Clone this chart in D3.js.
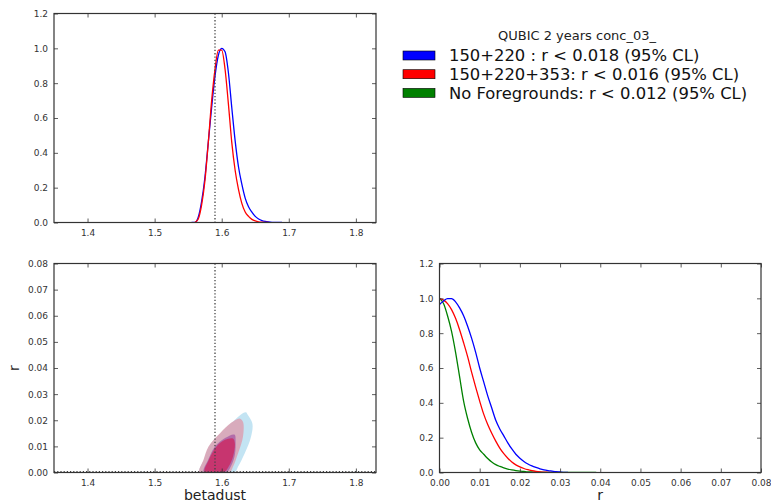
<!DOCTYPE html>
<html>
<head>
<meta charset="utf-8">
<script src="https://cdn.jsdelivr.net/npm/d3@7"></script>
<style>
  body { margin: 0; background: #fff; }
  svg { font-family: "DejaVu Sans", sans-serif; }
</style>
</head>
<body>
<div id="chart"></div>
<script>
// ---- data ----
const betaGrid = [1.555, 1.56, 1.565, 1.57, 1.575, 1.58, 1.585, 1.59, 1.595, 1.6, 1.605, 1.61, 1.615,
  1.62, 1.625, 1.63, 1.635, 1.64, 1.645, 1.65, 1.655, 1.66, 1.665, 1.67, 1.675, 1.68, 1.685, 1.69];
const betaBlue = [0, 0, 0.03, 0.12, 0.26, 0.46, 0.66, 0.84, 0.96, 1.0, 0.98, 0.86, 0.66,
  0.47, 0.32, 0.22, 0.14, 0.09, 0.06, 0.035, 0.02, 0.011, 0.006, 0.003, 0.001, 0, 0, 0];
const betaRed = [null, 0, 0.02, 0.1, 0.24, 0.46, 0.7, 0.88, 0.99, 0.99, 0.88, 0.68, 0.46,
  0.3, 0.19, 0.11, 0.06, 0.035, 0.018, 0.009, 0.004, 0.002, 0.001, 0, null, null, null, null];

const rGrid = [0, 0.001, 0.002, 0.003, 0.004, 0.005, 0.006, 0.007, 0.008, 0.009, 0.01, 0.011, 0.012,
  0.013, 0.014, 0.015, 0.016, 0.017, 0.018, 0.019, 0.02, 0.021, 0.022, 0.023, 0.024, 0.025, 0.026,
  0.027, 0.028, 0.029, 0.03, 0.031, 0.032, 0.035, 0.039];
const rBlue = [0.965, 0.985, 0.998, 0.998, 0.98, 0.945, 0.9, 0.84, 0.77, 0.69, 0.6, 0.52, 0.44,
  0.37, 0.3, 0.25, 0.21, 0.17, 0.135, 0.105, 0.082, 0.063, 0.049, 0.038, 0.029, 0.021, 0.015,
  0.011, 0.008, 0.005, 0.003, 0.001, 0, null, null];
const rRed = [0.998, 0.99, 0.97, 0.935, 0.885, 0.82, 0.745, 0.665, 0.575, 0.49, 0.41, 0.335, 0.275,
  0.225, 0.18, 0.14, 0.108, 0.082, 0.06, 0.044, 0.032, 0.023, 0.016, 0.011, 0.007, 0.004, 0.002,
  0.001, 0, null, null, null, null, null, null];
const rGreen = [1.0, 0.97, 0.9, 0.81, 0.69, 0.55, 0.41, 0.31, 0.23, 0.17, 0.13, 0.105, 0.08,
  0.06, 0.045, 0.035, 0.027, 0.02, 0.015, 0.011, 0.008, 0.006, 0.004, 0.003, 0.002, 0.0015, 0.001,
  0.0005, 0, 0, 0, 0, 0, 0, 0];

// 2D contours (betadust, r)
const blueOuter = [[1.567, 0], [1.574, 0.005], [1.582, 0.01], [1.5995, 0.015], [1.619, 0.02], [1.632, 0.0228],
  [1.6367, 0.023], [1.6383, 0.0223], [1.6457, 0.0188], [1.6437, 0.0137], [1.6342, 0.0073], [1.6243, 0.0022], [1.619, 0]];
const redOuter = [[1.567, 0], [1.573, 0.005], [1.5804, 0.01], [1.5975, 0.015], [1.614, 0.019], [1.6268, 0.0207],
  [1.6317, 0.0194], [1.6317, 0.0137], [1.6243, 0.0073], [1.6168, 0.0022], [1.6116, 0]];
const blueInner = [[1.5732, 0], [1.58, 0.005], [1.59, 0.01], [1.605, 0.0132], [1.619, 0.0145], [1.6207, 0.0117],
  [1.619, 0.006], [1.612, 0.0015], [1.607, 0]];
const redInner = [[1.5747, 0], [1.581, 0.005], [1.5923, 0.01], [1.605, 0.0125], [1.6168, 0.013], [1.6196, 0.0111],
  [1.6168, 0.006], [1.6087, 0.0015], [1.603, 0]];

const betaTrue = 1.59;
const legendTitle = "QUBIC 2 years conc_03_";
const legendLabels = ["150+220 : r < 0.018 (95% CL)", "150+220+353: r < 0.016 (95% CL)", "No Foregrounds: r < 0.012 (95% CL)"];
const legendColors = ["#0000ff", "#ff0000", "#008000"];

const betaTicks = [1.4, 1.5, 1.6, 1.7, 1.8];
const likeTicks = [0, 0.2, 0.4, 0.6, 0.8, 1.0, 1.2];
const rTicks = [0, 0.01, 0.02, 0.03, 0.04, 0.05, 0.06, 0.07, 0.08];

// ---- setup ----
const W = 771, H = 504;
const svg = d3.select("#chart").append("svg").attr("width", W).attr("height", H);

function panel(x0, x1, y0, y1, xDom, yDom, xTicks, yTicks, xFmt, yFmt) {
  const x = d3.scaleLinear().domain(xDom).range([x0, x1]);
  const y = d3.scaleLinear().domain(yDom).range([y1, y0]);
  const g = svg.append("g");
  const clipId = "clip" + Math.round(x0) + Math.round(y0);
  svg.append("clipPath").attr("id", clipId)
    .append("rect").attr("x", x0).attr("y", y0).attr("width", x1 - x0).attr("height", y1 - y0);
  const plot = g.append("g").attr("clip-path", `url(#${clipId})`);
  const axes = g.append("g");
  // inward ticks on all sides
  const tk = 4;
  axes.append("g").attr("transform", `translate(0,${y1})`)
    .call(d3.axisBottom(x).tickValues(xTicks).tickSizeInner(-tk).tickSizeOuter(0).tickPadding(7).tickFormat(xFmt));
  axes.append("g").attr("transform", `translate(0,${y0})`)
    .call(d3.axisTop(x).tickValues(xTicks).tickSizeInner(-tk).tickSizeOuter(0).tickFormat(""));
  axes.append("g").attr("transform", `translate(${x0},0)`)
    .call(d3.axisLeft(y).tickValues(yTicks).tickSizeInner(-tk).tickSizeOuter(0).tickPadding(6).tickFormat(yFmt));
  axes.append("g").attr("transform", `translate(${x1},0)`)
    .call(d3.axisRight(y).tickValues(yTicks).tickSizeInner(-tk).tickSizeOuter(0).tickFormat(""));
  axes.selectAll(".domain").remove();
  axes.selectAll(".tick line").attr("stroke", "#333").attr("stroke-width", 0.8);
  axes.selectAll(".tick text").attr("fill", "#333").style("font-size", "9px").style("font-family", "DejaVu Sans");
  axes.append("rect").attr("x", x0).attr("y", y0).attr("width", x1 - x0).attr("height", y1 - y0)
    .attr("fill", "none").attr("stroke", "#333").attr("stroke-width", 1.2);
  return { x, y, plot };
}

const L = 54, R1 = 376, L2 = 439.5, R2 = 761;
const T1 = 13.5, B1 = 222.5, T2 = 263.5, B2 = 472.5;

const f1 = d3.format(".1f"), f2 = d3.format(".2f");

// top-left: betadust likelihood
const p1 = panel(L, R1, T1, B1, [1.35, 1.83], [0, 1.2], betaTicks, likeTicks, f1, f1);
const line1 = d3.line().defined(d => d[1] != null).curve(d3.curveMonotoneX)
  .x(d => p1.x(d[0])).y(d => p1.y(d[1]));
p1.plot.append("path").datum(betaGrid.map((b, i) => [b, betaBlue[i]]))
  .attr("d", line1).attr("fill", "none").attr("stroke", "#0000ff").attr("stroke-width", 1.3);
p1.plot.append("path").datum(betaGrid.map((b, i) => [b, betaRed[i]]))
  .attr("d", line1).attr("fill", "none").attr("stroke", "#ff0000").attr("stroke-width", 1.3);
p1.plot.append("line").attr("x1", p1.x(betaTrue)).attr("x2", p1.x(betaTrue)).attr("y1", T1).attr("y2", B1)
  .attr("stroke", "#444").attr("stroke-width", 1.3).attr("stroke-dasharray", "1.3,2");

// bottom-left: 2D contours
const p2 = panel(L, R1, T2, B2, [1.35, 1.83], [0, 0.08], betaTicks, rTicks, f1, f2);
const area = d3.line().curve(d3.curveCatmullRomClosed).x(d => p2.x(d[0])).y(d => p2.y(d[1]));
const contours = [
  { pts: blueOuter, fill: "#c0e3f2" },
  { pts: redOuter, fill: "#d9a8b8" },
  { pts: blueInner, fill: "#b068a8" },
  { pts: redInner, fill: "#c8336b" }
];
contours.forEach(c => {
  p2.plot.append("path").attr("d", area(c.pts)).attr("fill", c.fill).attr("opacity", 0.95);
});
p2.plot.append("line").attr("x1", p2.x(betaTrue)).attr("x2", p2.x(betaTrue)).attr("y1", T2).attr("y2", B2)
  .attr("stroke", "#444").attr("stroke-width", 1.3).attr("stroke-dasharray", "1.3,2");
p2.plot.append("line").attr("x1", L).attr("x2", R1).attr("y1", p2.y(0) - 1).attr("y2", p2.y(0) - 1)
  .attr("stroke", "#444").attr("stroke-width", 1.2).attr("stroke-dasharray", "1.2,2");

// bottom-right: r likelihood
const p3 = panel(L2, R2, T2, B2, [0, 0.08], [0, 1.2], rTicks, likeTicks, f2, f1);
const line3 = d3.line().defined(d => d[1] != null).curve(d3.curveMonotoneX)
  .x(d => p3.x(d[0])).y(d => p3.y(d[1]));
[[rGreen, "#008000"], [rRed, "#ff0000"], [rBlue, "#0000ff"]].forEach(([vals, col]) => {
  p3.plot.append("path").datum(rGrid.map((r, i) => [r, vals[i]]))
    .attr("d", line3).attr("fill", "none").attr("stroke", col).attr("stroke-width", 1.3);
});

// axis labels
svg.append("text").attr("x", (L + R1) / 2).attr("y", 500).attr("text-anchor", "middle")
  .style("font-size", "14px").attr("fill", "#222").text("betadust");
svg.append("text").attr("x", (L2 + R2) / 2).attr("y", 500).attr("text-anchor", "middle")
  .style("font-size", "14px").attr("fill", "#222").text("r");
svg.append("text").attr("transform", `translate(19,${(T2 + B2) / 2}) rotate(-90)`).attr("text-anchor", "middle")
  .style("font-size", "14px").attr("fill", "#222").text("r");

// legend
const leg = svg.append("g");
leg.append("text").attr("x", 577).attr("y", 39.5).attr("text-anchor", "middle")
  .style("font-size", "13px").attr("fill", "#222").text(legendTitle);
legendLabels.forEach((lab, i) => {
  const cy = 55.5 + i * 18.7;
  leg.append("rect").attr("x", 403).attr("y", cy - 4.5).attr("width", 32).attr("height", 9)
    .attr("fill", legendColors[i]).attr("stroke", "#000").attr("stroke-width", 0.6);
  leg.append("text").attr("x", 449).attr("y", cy + 5.8).style("font-size", "16.4px")
    .attr("fill", "#111").text(lab);
});
</script>
</body>
</html>
